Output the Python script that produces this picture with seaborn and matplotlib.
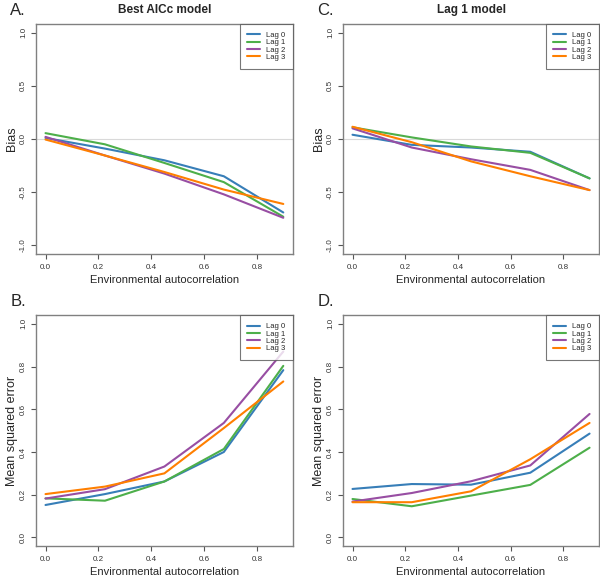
import matplotlib
matplotlib.use("Agg")
import matplotlib.pyplot as plt
import pandas as pd
import seaborn as sns

# autocorrelation levels (x axis)
autocorr = [0.0, 0.225, 0.45, 0.675, 0.9]
lags = ["Lag 0", "Lag 1", "Lag 2", "Lag 3"]
colores = ["#377eb8", "#4daf4a", "#984ea3", "#ff7f00"]

# A. Bias, best AICc model
bias_aicc_lag0 = [0.01, -0.09, -0.20, -0.35, -0.69]
bias_aicc_lag1 = [0.055, -0.05, -0.225, -0.405, -0.73]
bias_aicc_lag2 = [0.02, -0.155, -0.325, -0.52, -0.74]
bias_aicc_lag3 = [-0.005, -0.155, -0.31, -0.475, -0.61]

# C. Bias, lag 1 model
bias_lag1_lag0 = [0.04, -0.055, -0.08, -0.12, -0.37]
bias_lag1_lag1 = [0.11, 0.015, -0.07, -0.13, -0.37]
bias_lag1_lag2 = [0.10, -0.08, -0.19, -0.29, -0.48]
bias_lag1_lag3 = [0.115, -0.03, -0.21, -0.35, -0.48]

# B. MSE, best AICc model
mse_aicc_lag0 = [0.152, 0.203, 0.262, 0.40, 0.783]
mse_aicc_lag1 = [0.183, 0.172, 0.262, 0.414, 0.803]
mse_aicc_lag2 = [0.182, 0.226, 0.332, 0.536, 0.87]
mse_aicc_lag3 = [0.203, 0.238, 0.30, 0.512, 0.73]

# D. MSE, lag 1 model
mse_lag1_lag0 = [0.227, 0.25, 0.247, 0.303, 0.486]
mse_lag1_lag1 = [0.18, 0.146, 0.196, 0.246, 0.42]
mse_lag1_lag2 = [0.168, 0.208, 0.263, 0.337, 0.578]
mse_lag1_lag3 = [0.165, 0.165, 0.216, 0.366, 0.536]


def armar_tabla(series):
    filas = []
    for lag, valores in zip(lags, series):
        for x, y in zip(autocorr, valores):
            filas.append({"autocorr": x, "valor": y, "lag": lag})
    return pd.DataFrame(filas)


sns.set_style("white")
plt.rcParams["font.family"] = ["Liberation Sans", "DejaVu Sans"]

fig = plt.figure(figsize=(6.0, 5.77), dpi=100)

paneles = [
    ("A.", "Best AICc model", "Bias", [bias_aicc_lag0, bias_aicc_lag1, bias_aicc_lag2, bias_aicc_lag3],
     [0.06, 0.5598, 0.428, 0.3986]),
    ("C.", "Lag 1 model", "Bias", [bias_lag1_lag0, bias_lag1_lag1, bias_lag1_lag2, bias_lag1_lag3],
     [0.5717, 0.5598, 0.4267, 0.3986]),
    ("B.", None, "Mean squared error", [mse_aicc_lag0, mse_aicc_lag1, mse_aicc_lag2, mse_aicc_lag3],
     [0.06, 0.0537, 0.428, 0.40]),
    ("D.", None, "Mean squared error", [mse_lag1_lag0, mse_lag1_lag1, mse_lag1_lag2, mse_lag1_lag3],
     [0.5717, 0.0537, 0.4267, 0.40]),
]

for letra, titulo, ylabel, series, pos in paneles:
    ax = fig.add_axes(pos)
    df = armar_tabla(series)
    es_bias = ylabel == "Bias"
    if es_bias:
        ax.axhline(0, color="#d9d9d9", lw=0.8, zorder=0)
    sns.lineplot(data=df, x="autocorr", y="valor", hue="lag", palette=colores,
                 linewidth=1.5, ax=ax, legend=True)

    ax.set_xlim(-0.036, 0.936)
    if es_bias:
        ax.set_ylim(-1.08, 1.08)
        ax.set_yticks([-1.0, -0.5, 0.0, 0.5, 1.0])
    else:
        ax.set_ylim(-0.04, 1.04)
        ax.set_yticks([0.0, 0.2, 0.4, 0.6, 0.8, 1.0])
    ax.set_xticks([0.0, 0.2, 0.4, 0.6, 0.8])
    ax.xaxis.set_major_formatter(matplotlib.ticker.FormatStrFormatter("%.1f"))
    ax.yaxis.set_major_formatter(matplotlib.ticker.FormatStrFormatter("%.1f"))
    ax.tick_params(axis="both", which="major", direction="out", length=3.5, width=0.8,
                   color="#555555", labelsize=5.8, labelcolor="#333333", bottom=True, left=True)
    ax.tick_params(axis="x", pad=3.5)
    ax.tick_params(axis="y", pad=3)
    for lbl in ax.get_yticklabels():
        lbl.set_rotation(90)
        lbl.set_va("center")

    for sp in ax.spines.values():
        sp.set_color("#808080")
        sp.set_linewidth(1.0)

    ax.set_xlabel("Environmental autocorrelation", fontsize=8, labelpad=3)
    ax.set_ylabel(ylabel, fontsize=9, labelpad=1.5)

    leg = ax.legend(loc="upper right", fontsize=5.5, frameon=True, fancybox=False,
                    borderaxespad=0, handlelength=1.7, labelspacing=0.0,
                    borderpad=1.0, handletextpad=0.75)
    leg.get_frame().set_edgecolor("#555555")
    leg.get_frame().set_linewidth(0.8)
    for linea in leg.get_lines():
        linea.set_linewidth(1.5)

    x0, y0, w, h = pos
    fig.text(x0 - 0.043, y0 + h + 0.024, letra, fontsize=12, ha="left", va="center")
    if titulo:
        fig.text(x0 + w / 2, y0 + h + 0.025, titulo, fontsize=8.5, fontweight="bold",
                 ha="center", va="center")

fig.savefig("out.png", dpi=100)
